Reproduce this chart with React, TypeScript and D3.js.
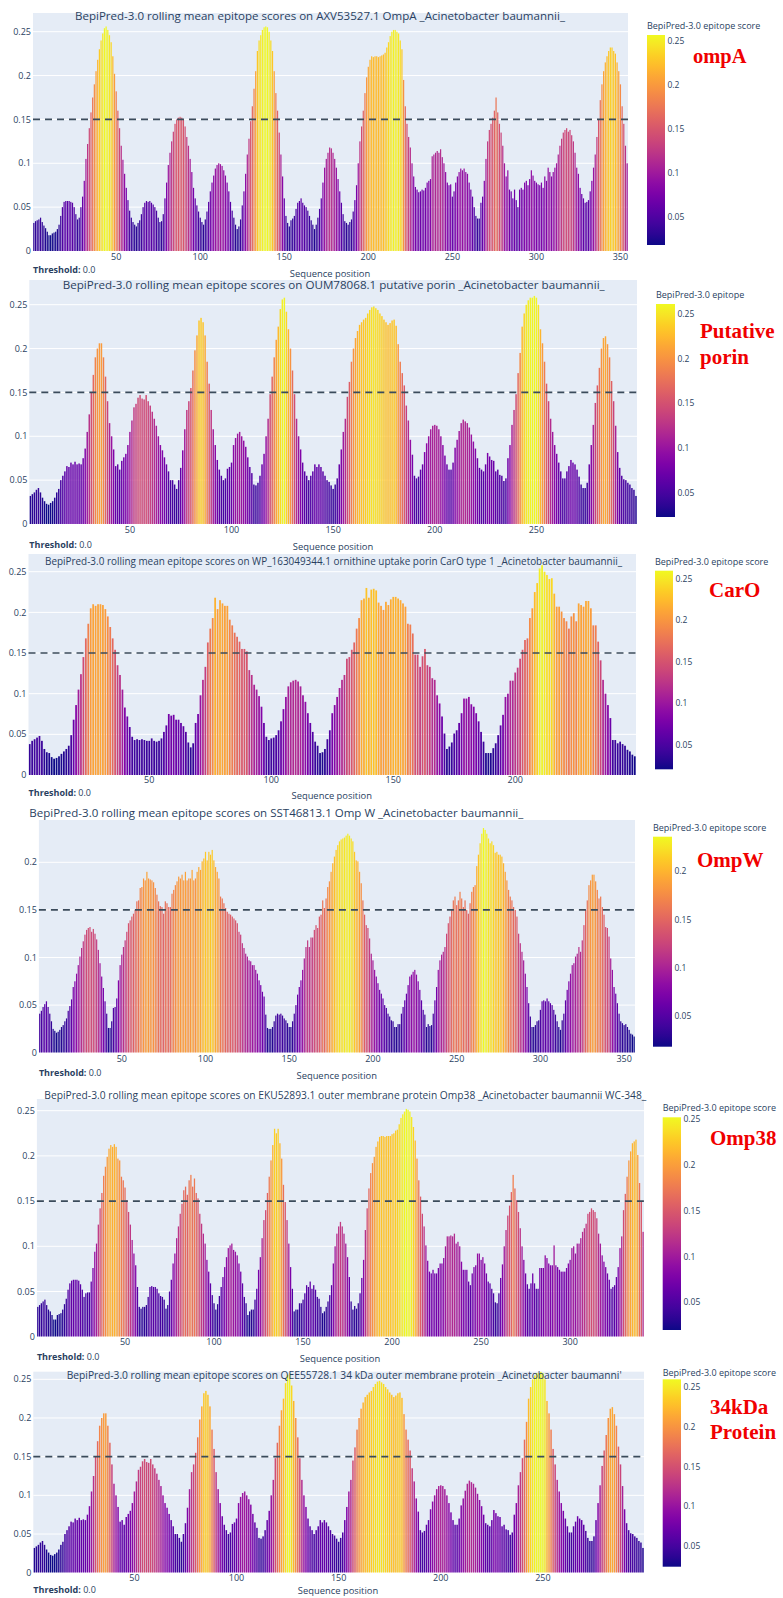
import React from 'react';
import * as d3 from 'd3';

// BepiPred-3.0 rolling mean epitope scores (score x 1000), residue 1..N
const ompAScores = [
32,34,35,36,38,33,29,26,22,18, 18,20,21,22,25,30,40,50,56,57, 57,57,56,55,50,42,36,38,50,62,
80,105,122,140,158,175,190,205,218,230, 240,248,254,256,252,246,238,222,202,182, 160,140,120,104,88,72,58,46,38,33,
30,28,32,35,42,50,55,57,56,57, 55,53,50,46,38,33,34,42,60,78, 98,112,125,136,145,150,152,153,152,150,
142,130,120,105,90,72,60,52,45,38, 33,30,36,45,56,68,78,86,94,98, 100,99,97,92,86,78,68,56,46,38,
30,25,28,36,52,68,88,110,128,148, 165,185,205,228,240,246,252,255,256,255, 250,240,228,205,180,160,135,110,85,60,
40,32,28,35,37,40,48,55,57,60, 55,52,50,46,40,35,30,25,30,38, 48,60,78,95,105,112,118,117,112,105,
95,82,68,55,42,34,32,30,33,36, 45,58,75,100,125,142,160,180,198,210, 218,222,221,222,222,221,222,223,224,226,
232,238,245,250,252,252,250,248,240,230, 195,165,145,130,118,100,85,73,70,67, 68,70,69,72,78,80,82,108,110,112,
114,112,116,107,100,90,78,75,76,62, 68,78,85,90,94,92,94,90,88,78, 70,62,50,40,37,37,55,62,80,105,
125,138,145,152,160,175,158,145,135,120, 100,85,92,70,68,60,70,58,50,70, 72,70,78,80,75,82,92,86,80,78,
76,75,78,72,85,80,95,90,85,90, 95,100,110,120,128,135,138,140,136,138, 132,125,112,95,88,72,65,60,55,56,
58,68,80,95,110,130,150,172,190,205, 215,222,228,232,232,228,225,215,205,190, 165,145,120,100
];

const porinScores = [
32,34,36,39,41,36,30,26,23,22, 24,26,30,36,40,50,55,60,66,65, 70,68,71,68,69,68,75,86,105,125,
150,170,190,200,206,206,190,168,140,115, 100,85,66,68,62,72,76,80,90,105, 118,133,137,144,147,143,142,147,140,135,
128,120,112,100,90,84,76,68,60,50, 50,45,40,50,64,84,108,130,140,155, 175,198,215,232,235,230,215,185,160,130,
108,90,73,62,55,50,52,63,65,70, 90,98,103,105,100,95,88,76,65,58, 45,44,47,55,68,80,100,120,148,168,
190,210,225,245,256,258,242,222,200,175, 148,120,100,85,70,60,55,50,55,60, 68,65,68,65,60,55,50,48,44,40,
45,52,68,85,105,120,145,162,185,200, 212,220,227,230,233,235,240,244,247,248, 246,244,240,237,233,230,227,229,232,233,
226,205,185,172,158,135,118,96,79,55, 52,54,62,68,82,92,100,108,112,113, 112,108,100,90,78,68,62,62,70,87,
96,106,115,119,117,115,110,102,94,86, 75,64,62,60,68,81,77,73,72,60, 62,56,55,49,52,75,90,113,130,148,
172,195,225,240,250,255,258,258,260,258, 250,222,206,185,160,140,120,105,90,80, 70,60,52,52,60,66,73,70,68,62,
54,45,41,41,47,68,90,113,138,158, 178,200,212,214,205,190,163,140,112,82, 64,55,51,50,47,45,41,39,32
];

const caroScores = [
38,42,44,46,48,42,32,28,27,22, 20,21,23,26,29,32,36,49,68,86, 105,124,145,168,186,205,210,208,210,210,
209,204,195,182,168,154,135,123,105,83, 72,59,47,43,44,43,44,43,42,42, 45,42,41,42,45,53,61,75,73,74,
68,68,64,60,53,40,34,39,64,75, 98,117,133,163,180,193,218,204,215,211, 208,208,191,184,175,170,164,155,155,152,
129,123,111,105,97,84,64,47,43,45, 46,49,55,66,81,96,109,114,116,117, 115,109,98,90,76,64,53,41,36,27,
28,32,44,55,76,86,96,107,117,123, 143,145,154,163,180,193,215,217,230,218, 228,229,227,212,208,203,213,209,216,219,
219,217,215,211,207,186,185,174,148,148, 133,146,155,135,133,119,117,98,88,72, 51,32,35,40,51,55,64,76,94,94,
96,87,84,76,66,53,41,27,27,27, 33,39,49,61,74,96,100,116,116,126, 132,143,154,166,168,193,205,225,236,254,
258,250,246,241,242,223,207,207,201,193, 189,180,195,199,189,211,209,207,214,214, 205,184,184,164,141,117,100,86,70,43,
43,39,41,38,36,31,29,25,23
];

const ompWScores = [
41,44,48,51,54,48,41,33,25,23, 21,22,24,27,29,33,36,44,49,56, 69,75,83,92,101,110,117,124,129,131,
132,127,130,125,119,108,94,80,68,54, 41,26,26,33,47,48,57,76,92,103, 111,118,127,136,139,143,146,150,159,160,
173,174,183,181,190,183,182,181,179,173, 166,159,154,153,146,159,157,153,153,167, 171,176,180,185,183,187,181,190,181,183,
183,192,181,183,190,195,192,201,204,211, 202,211,208,213,202,195,190,183,164,162, 157,152,148,146,145,143,141,139,136,
127,124,115,110,104,101,97,96,92,92, 87,83,76,71,64,59,40,26,25,25, 27,33,39,41,40,41,39,36,34,31,
27,27,33,41,50,61,69,76,87,99, 111,118,111,121,121,129,134,131,143,145, 160,152,162,174,180,190,199,206,213,218,
222,224,225,226,228,230,228,225,222,211, 202,201,190,178,160,145,134,131,120,104, 97,87,80,73,66,62,57,50,47,41,
38,34,33,27,27,30,30,
41,48,55,62,71,80,82,85,87,82, 75,66,55,45,40,27,30,28,29,41, 55,69,87,97,103,106,111,125,136,143,
150,160,164,155,160,169,162,153,160,150, 146,157,169,174,176,196,208,220,230,236, 234,230,225,220,222,218,210,211,208,208,
206,199,190,181,171,164,160,153,150,143, 125,115,106,97,83,69,52,38,27,27, 29,33,34,45,54,55,54,57,54,
52,50,45,40,33,27,24,34,41,55, 66,75,83,92,94,101,104,111,106,118, 134,150,160,176,181,187,187,180,171,162,
164,153,145,132,131,122,99,87,69,62, 52,41,33,31,29,30,27,24,20,19,17
];

const omp38Scores = [
33,35,37,39,41,35,30,28,24,19, 19,24,25,26,30,36,42,52,59,62, 63,63,63,62,58,52,44,48,49,49,
61,76,94,103,124,142,159,178,188,199, 208,212,210,213,210,197,195,177,173,165, 151,138,124,107,92,79,55,33,31,33,
33,35,44,55,56,55,55,53,48,45, 44,41,31,35,50,63,81,92,109,122, 136,147,162,166,157,173,179,166,175,159,
153,136,125,114,103,85,72,59,46,37, 30,36,45,55,66,77,88,98,101,103, 96,94,90,81,72,59,44,37,24,28,
30,30,41,53,74,88,109,129,140,159, 177,195,212,230,225,230,214,197,168,149, 129,103,77,53,28,30,30,37,37,41,
48,57,55,61,53,57,52,44,42,33, 26,28,33,39,46,57,81,100,114,122, 127,122,114,103,88,66,39,30,34,31,
37,48,65,85,118,142,164,181,192,199, 210,216,221,222,222,221,222,222,222,224, 225,228,229,235,242,246,249,252,251,249,
243,232,217,197,173,155,136,122,101,84, 72,70,74,70,70,76,81,81,87,100, 111,111,112,111,114,103,105,100,83,74,
74,74,61,57,70,77,79,92,92,85, 88,81,70,61,59,53,48,38,37,48, 65,80,100,118,134,145,160,179,164,151,
138,120,100,85,70,58,53,59,70,59, 53,53,76,76,76,90,87,81,79,79, 101,79,77,74,72,72,72,76,81,85,
98,100,92,103,103,109,116,120,125,136, 138,142,140,138,131,114,103,90,83,77, 70,63,53,55,57,66,77,98,111,140,
158,177,195,205,214,216,218,201,170,150,116
];

// the 34 kDa protein profile reads the same as the putative porin one
const kda34Scores = porinScores;

const SCORE_UNIT = 1000;
const threshold = 0.15;

const titles = [
  'BepiPred-3.0 rolling mean epitope scores on AXV53527.1 OmpA _Acinetobacter baumannii_',
  'BepiPred-3.0 rolling mean epitope scores on OUM78068.1 putative porin _Acinetobacter baumannii_',
  'BepiPred-3.0 rolling mean epitope scores on WP_163049344.1 ornithine uptake porin CarO type 1 _Acinetobacter baumannii_',
  'BepiPred-3.0 rolling mean epitope scores on SST46813.1 Omp W _Acinetobacter baumannii_',
  'BepiPred-3.0 rolling mean epitope scores on EKU52893.1 outer membrane protein Omp38 _Acinetobacter baumannii WC-348_',
  "BepiPred-3.0 rolling mean epitope scores on QEE55728.1 34 kDa outer membrane protein _Acinetobacter baumanni'",
];
const proteinLabels = [['ompA'], ['Putative', 'porin'], ['CarO'], ['OmpW'], ['Omp38'], ['34kDa', 'Protein']];
const colorbarTitles = [
  'BepiPred-3.0 epitope score', 'BepiPred-3.0 epitope', 'BepiPred-3.0 epitope score',
  'BepiPred-3.0 epitope score', 'BepiPred-3.0 epitope score', 'BepiPred-3.0 epitope score',
];
const xTicks7 = [50, 100, 150, 200, 250, 300, 350];
const xTicks5 = [50, 100, 150, 200, 250];
const xTicks4 = [50, 100, 150, 200];
const xTicks6 = [50, 100, 150, 200, 250, 300];
const yTicks25 = [0, 0.05, 0.1, 0.15, 0.2, 0.25];
const yTicks20 = [0, 0.05, 0.1, 0.15, 0.2];
const cbTicks25 = [0.05, 0.1, 0.15, 0.2, 0.25];
const cbTicks20 = [0.05, 0.1, 0.15, 0.2];

const seriesList = [ompAScores, porinScores, caroScores, ompWScores, omp38Scores, kda34Scores];
const xTickList = [xTicks7, xTicks5, xTicks4, xTicks7, xTicks6, xTicks5];
const yTickList = [yTicks25, yTicks25, yTicks25, yTicks20, yTicks25, yTicks25];
const cbTickList = [cbTicks25, cbTicks25, cbTicks25, cbTicks20, cbTicks25, cbTicks25];

// layout of each screenshot panel (pixels)
const layouts = [
  { l: 33, r: 628, t: 13, y0: 251, refV: 0.25, refY: 31.7, titleX: 75, titleY: 16, titleW: 490,
    cbX: 647, cbR: 665, cbT: 35, cbB: 245, cbMin: 0.0178, cbMax: 0.2568, cbTitleY: 26,
    labX: 693, labY: [63], labSize: 20.5, infoY: 270, seqX: 330, seqY: 274, xTickY: 257 },
  { l: 29.3, r: 637, t: 280, y0: 524, refV: 0.25, refY: 304.7, titleX: 62.7, titleY: 285, titleW: 542,
    cbX: 656, cbR: 675, cbT: 304, cbB: 517, cbMin: 0.023, cbMax: 0.261, cbTitleY: 295,
    labX: 700, labY: [338, 364], labSize: 21, infoY: 544.7, seqX: 333, seqY: 547, xTickY: 529.7 },
  { l: 28.5, r: 636, t: 554, y0: 775, refV: 0.25, refY: 571.7, titleX: 45, titleY: 561.7, titleW: 577,
    cbX: 655, cbR: 673, cbT: 570.7, cbB: 769.3, cbMin: 0.0207, cbMax: 0.26, cbTitleY: 562.3,
    labX: 709, labY: [596.7], labSize: 21, infoY: 793.3, seqX: 331.7, seqY: 796, xTickY: 780 },
  { l: 38.9, r: 635, t: 820, y0: 1052.7, refV: 0.2, refY: 862.3, titleX: 29.3, titleY: 813.3, titleW: 494,
    cbX: 653, cbR: 672, cbT: 836.7, cbB: 1046.7, cbMin: 0.018, cbMax: 0.236, cbTitleY: 828.3,
    labX: 697, labY: [866.7], labSize: 21, infoY: 1072.7, seqX: 336.7, seqY: 1076, xTickY: 1059.3 },
  { l: 36.9, r: 644, t: 1099, y0: 1336.7, refV: 0.25, refY: 1110.7, titleX: 44.3, titleY: 1095, titleW: 602,
    cbX: 662.7, cbR: 681, cbT: 1117.3, cbB: 1330, cbMin: 0.02, cbMax: 0.252, cbTitleY: 1108.3,
    labX: 710, labY: [1145], labSize: 21, infoY: 1356.7, seqX: 340, seqY: 1359, xTickY: 1342.3 },
  { l: 33.3, r: 644, t: 1371.7, y0: 1572.7, refV: 0.25, refY: 1379.3, titleX: 66.7, titleY: 1375, titleW: 555,
    cbX: 662.7, cbR: 681, cbT: 1379.3, cbB: 1566.7, cbMin: 0.024, cbMax: 0.26, cbTitleY: 1372.7,
    labX: 710, labY: [1414, 1439.3], labSize: 21, infoY: 1589.5, seqX: 338, seqY: 1590.5, xTickY: 1578.3 },
];

const FONT = "'Open Sans', 'Noto Sans', Arial, sans-serif";
const TXT = '#2a3f5f';
const fmt = (v: number) => String(+v.toFixed(2));

function Panel({ idx }: { idx: number }) {
  const L = layouts[idx];
  const scores = seriesList[idx];
  const n = scores.length;
  const x = d3.scaleLinear().domain([0.5, n + 0.5]).range([L.l, L.r]);
  const y = d3.scaleLinear().domain([0, L.refV]).range([L.y0, L.refY]);
  const color = d3.scaleSequential(d3.interpolatePlasma).domain([L.cbMin, L.cbMax]).clamp(true);
  const cbY = d3.scaleLinear().domain([L.cbMin, L.cbMax]).range([L.cbB, L.cbT]);
  const step = x(2) - x(1);
  const bw = step * 0.72;
  const gradId = `cbgrad${idx}`;
  const clipId = `clip${idx}`;
  const stops = d3.range(0, 1.0001, 0.05);
  return (
    <g>
      <defs>
        <linearGradient id={gradId} x1="0" y1="1" x2="0" y2="0">
          {stops.map((s) => (
            <stop key={s} offset={s} stopColor={d3.interpolatePlasma(s)} />
          ))}
        </linearGradient>
        <clipPath id={clipId}>
          <rect x={L.l} y={L.t} width={L.r - L.l} height={L.y0 - L.t} />
        </clipPath>
      </defs>
      <rect x={L.l} y={L.t} width={L.r - L.l} height={L.y0 - L.t} fill="#e5ecf6" />
      {yTickList[idx].map((v) => (
        <line key={v} x1={L.l} x2={L.r} y1={y(v)} y2={y(v)} stroke="#ffffff" strokeWidth={1} />
      ))}
      <g clipPath={`url(#${clipId})`}>
        {scores.map((s, i) => {
          const v = s / SCORE_UNIT;
          return (
            <rect key={i} x={x(i + 1) - bw / 2} y={y(v)} width={bw} height={L.y0 - y(v)} fill={color(v)} />
          );
        })}
      </g>
      <line x1={L.l} x2={L.r} y1={y(threshold)} y2={y(threshold)} stroke="#3b4b5b" strokeWidth={1.6} strokeDasharray="7,5" />
      {yTickList[idx].map((v) => (
        <text key={v} x={L.l - 2} y={y(v)} dy="0.35em" textAnchor="end" fontSize={9} fill={TXT} fontFamily={FONT}>{fmt(v)}</text>
      ))}
      {xTickList[idx].map((v) => (
        <text key={v} x={x(v)} y={L.xTickY} dy="0.35em" textAnchor="middle" fontSize={9} fill={TXT} fontFamily={FONT}>{v}</text>
      ))}
      <text x={L.titleX} y={L.titleY} dy="0.35em" fontSize={10.5} fill={TXT} fontFamily={FONT}
        textLength={L.titleW} lengthAdjust="spacingAndGlyphs">{titles[idx]}</text>
      <text x={L.l} y={L.infoY} dy="0.35em" fontSize={9} fill={TXT} fontFamily={FONT}>
        <tspan fontWeight="bold">Threshold:</tspan>
        <tspan> 0.0</tspan>
      </text>
      <text x={L.seqX} y={L.seqY} dy="0.35em" textAnchor="middle" fontSize={9.4} fill={TXT} fontFamily={FONT}>Sequence position</text>
      <rect x={L.cbX} y={L.cbT} width={L.cbR - L.cbX} height={L.cbB - L.cbT} fill={`url(#${gradId})`} />
      {cbTickList[idx].map((v) => (
        <text key={v} x={L.cbR + 2.5} y={cbY(v)} dy="0.35em" fontSize={8.5} fill={TXT} fontFamily={FONT}>{fmt(v)}</text>
      ))}
      <text x={L.cbX} y={L.cbTitleY} dy="0.35em" fontSize={9} fill={TXT} fontFamily={FONT}>{colorbarTitles[idx]}</text>
      {proteinLabels[idx].map((line, k) => (
        <text key={k} x={L.labX} y={L.labY[k]} fontSize={L.labSize} fontWeight="bold" fill="#f00000"
          fontFamily="'Liberation Serif', 'Times New Roman', serif">{line}</text>
      ))}
    </g>
  );
}

export default function App() {
  return (
    <svg width={783} height={1598} viewBox="0 0 783 1598"
      style={{ position: 'absolute', left: 0, top: 0, background: '#ffffff' }}>
      <rect x={0} y={0} width={783} height={1598} fill="#ffffff" />
      {layouts.map((_, i) => (
        <Panel key={i} idx={i} />
      ))}
    </svg>
  );
}
